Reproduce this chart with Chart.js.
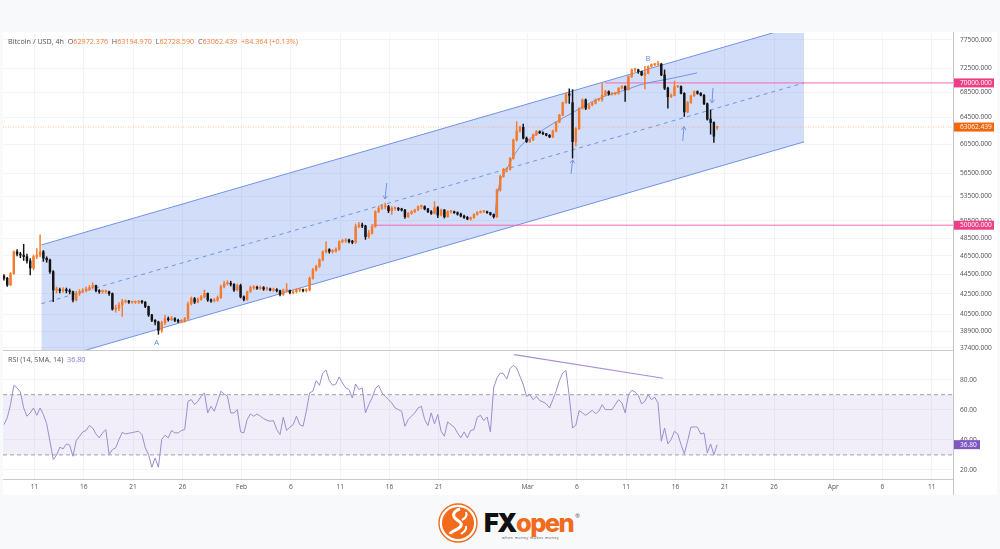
<!DOCTYPE html>
<html>
<head>
<meta charset="utf-8">
<title>Bitcoin / USD, 4h</title>
<script src="https://cdn.jsdelivr.net/npm/chart.js@4/dist/chart.umd.js"></script>
<style>
  html, body { margin:0; padding:0; width:1000px; height:549px; overflow:hidden; background:#f8f9fb; font-family:"Open Sans",sans-serif; }
  .abs { position:absolute; }
  #panel { left:3px; top:32px; width:994px; height:463px; background:#fff; }
  canvas { position:absolute; left:0; }
  .legend { position:absolute; font-size:7.2px; line-height:9px; color:#555; white-space:pre; }
  .legend b { font-weight:400; color:#f0803c; }
  .legend i { font-style:normal; color:#8d77c6; }
</style>
</head>
<body>
<div id="panel" class="abs"></div>
<canvas id="priceChart" width="1000" height="360" style="top:0"></canvas>
<canvas id="rsiChart" width="1000" height="144" style="top:351px"></canvas>
<div class="abs" style="left:953px;top:32px;width:1px;height:463px;background:#c2c4c8"></div>
<div class="abs" style="left:3px;top:350px;width:950px;height:1px;background:#c8cacd"></div>
<div class="abs" style="left:3px;top:479px;width:950px;height:1px;background:#c8cacd"></div>
<div class="legend" style="left:8px;top:37px">Bitcoin / USD, 4h  O<b>62972.376</b>  H<b>63194.970</b>  L<b>62728.590</b>  C<b>63062.439</b>  <b>+84.364 (+0.13%)</b></div>
<div class="legend" style="left:8px;top:355px">RSI (14, SMA, 14)  <i>36.80</i></div>
<svg class="abs" style="left:436px;top:500px" width="160" height="46" viewBox="0 0 160 46">
  <circle cx="22" cy="23" r="19" fill="#fff" stroke="#f26a1b" stroke-width="1.4"/>
  <circle cx="22" cy="23" r="16" fill="#f26a1b"/>
  <path d="M24 9c-7 2-8 7-4 10s8 5 3 9-8 3-9 6" fill="none" stroke="#fff" stroke-width="3"/>
  <path d="M30 12c2 5-2 7-4 8M30 26c1 4-2 6-5 8" fill="none" stroke="#fff" stroke-width="2"/>
  <text x="48" y="32" font-family="Inter, Roboto, sans-serif" font-weight="900" font-size="25.5" letter-spacing="-1.6" fill="#111">FX</text>
  <text x="80" y="32" font-family="Inter, Roboto, sans-serif" font-weight="800" font-size="25.5" letter-spacing="-1.6" fill="#f26a1b">open</text>
  <text x="139" y="18" font-family="Open Sans, sans-serif" font-size="6" fill="#555">®</text>
  <text x="66" y="39" font-family="Open Sans, sans-serif" font-size="3.6" letter-spacing=".5" fill="#444">when money makes money</text>
</svg>
<script>
// time axis, days since Jan 1
var tickDays = [10,15,20,25,31,36,41,46,51,60,65,70,75,80,85,91,96,101];
var tickLabels = ["11","16","21","26","Feb","6","11","16","21","Mar","6","11","16","21","26","Apr","6","11"];
var axisStartDay = 6.805;
var axisEndDay = 103.15;
var firstBarDay = 6.9;
var barStepDays = 1/3;

var priceTicks = [37400,38900,40500,42500,44500,46500,48500,50500,53500,56500,60500,64500,68500,72500,77500];
var rsiTicks = [20,40,60,80];

var candleOpen = [
  44350,44100,43410,44590,46950,46700,46590,46420,45950,45180,
  46420,46590,46950,46240,46060,44800,42900,42900,42830,42900,
  42830,42730,41900,42560,42730,42830,43000,43140,43350,42830,
  42730,42730,42730,42530,41000,41080,41410,41740,41740,41680,
  41680,41680,41740,41680,41250,40440,39930,39770,39000,39700,
  40090,39990,40090,39930,39830,39830,40090,41520,42030,41690,
  41960,42210,42560,41900,41800,41870,42130,43240,43550,43590,
  43480,42900,43350,42210,41940,42730,43140,43140,43070,43140,
  43000,43000,42900,42900,42830,42460,42830,42870,42630,42730,
  42900,42900,42830,42900,44100,45000,45360,46060,46950,47200,
  47000,47000,47240,48100,48170,48290,48100,48030,49830,50030,
  49910,48670,49060,49830,51620,52040,52250,52250,51740,52040,
  52040,51910,51830,51010,51420,51620,51830,52250,52250,51960,
  51620,51420,52120,51210,51830,51010,51620,51620,51500,51330,
  51090,50930,50730,50890,51290,51540,51620,51620,51500,51290,
  51010,54350,56130,57060,57060,58570,61170,62480,63020,61430,
  60930,61170,61940,62380,62220,62060,61850,61600,62480,63800,
  64870,66800,68200,66800,60930,62800,65900,67260,65930,66450,
  66720,67260,67260,68000,68580,68200,68200,68300,69130,69400,
  68900,71040,72200,72200,71900,71340,71620,72780,73090,73090,
  73210,71340,69130,67750,68000,69400,69400,68300,65370,66800,
  67900,68580,68300,68000,66640,64260,63750,62972.376
];
var candleHigh = [
  44500,44200,44700,47050,47200,46900,47800,46700,46200,46600,
  47300,48870,47100,46400,46150,44900,43200,43100,43150,43100,
  43000,42800,42750,42950,43050,43200,43350,43650,43400,42950,
  42900,42900,42800,42600,41400,41650,41950,41900,41850,41800,
  41800,41850,41850,41750,41300,40500,40000,39850,39850,40400,
  40250,40300,40200,40050,40000,40200,41700,42200,42150,42100,
  42350,42900,42600,42000,42050,42300,43400,43800,43850,43800,
  43550,43500,43500,42300,42800,43300,43350,43300,43300,43250,
  43200,43100,43100,43050,42900,43000,43550,42900,42900,43050,
  43100,43000,43050,44250,45150,45500,46200,47050,48100,47300,
  47200,47400,48200,48350,48450,48400,48250,50150,50350,50250,
  50000,49400,50100,51750,52300,52500,52680,52400,52250,52200,
  52150,52050,51900,51550,51750,51950,52350,52450,52350,52050,
  51750,52880,52250,51950,51900,51750,51800,51700,51600,51450,
  51200,51050,51000,51400,51650,51750,51800,51700,51550,51350,
  54450,56300,57200,57300,58700,61300,63870,63200,63500,61600,
  61250,62050,62550,62500,62350,62150,61950,62600,63900,65000,
  66900,68350,69030,68900,63000,66000,67400,67400,66600,66850,
  67400,67500,70000,68800,68700,68400,68450,69250,69550,69500,
  71150,72350,72500,72300,71950,72800,72900,73200,73300,73660,
  73300,72200,69300,68200,70300,69600,69500,68400,67000,68000,
  68700,68700,68400,68100,66750,65650,63850,63194.97
];
var candleLow = [
  43900,43250,43350,44500,46500,46300,46000,45700,44450,45000,
  46200,46400,45900,45800,44600,41730,42600,42600,42650,42600,
  42500,41700,41800,42350,42600,42700,42850,43000,42700,42550,
  42550,42550,42350,40900,40700,40850,40290,41600,41550,41550,
  41550,41550,41550,41150,40300,39800,39500,38630,38800,39550,
  39850,39900,39800,39700,39700,39750,40000,41400,41550,41600,
  41850,42100,41750,41650,41700,41750,42050,43100,43400,43300,
  42750,42800,42100,41800,41850,42650,42950,42950,42950,42850,
  42850,42800,42750,42700,42300,42350,42700,42500,42500,42600,
  42700,42700,42700,42800,44000,44850,45250,45950,46800,46800,
  46800,46900,47100,47950,48000,47950,47850,47900,49700,49700,
  48350,48500,48950,49750,51500,51900,51950,51500,51300,51800,
  51750,51700,50800,50900,51300,51500,51750,52000,51850,51500,
  51300,51350,50900,51100,50850,50950,51450,51400,51200,51000,
  50800,50650,50600,50800,51200,51450,51500,51400,51200,50850,
  50900,54200,56000,56700,56950,58450,61000,62300,61300,60800,
  60800,61050,61800,62100,61950,61750,61500,61500,62350,63700,
  64750,66700,66700,58600,60300,62700,65800,65700,65800,66300,
  66600,67100,67000,67900,68000,68000,68050,68150,69000,67000,
  68800,70900,71900,71600,71200,69000,71500,72650,72900,72950,
  71200,68900,65930,67600,67900,69200,68200,64660,65200,66700,
  67800,68150,67900,66500,64100,62000,60830,62728.59
];
var candleClose = [
  44100,43410,44590,46950,46700,46590,46420,45950,45180,46420,
  46590,46950,46240,46060,44800,42900,42900,42830,42900,42830,
  42730,41900,42560,42730,42830,43000,43140,43350,42830,42730,
  42730,42730,42530,41000,41080,41410,41740,41740,41680,41680,
  41680,41740,41680,41250,40440,39930,39770,39000,39700,40090,
  39990,40090,39930,39830,39830,40090,41520,42030,41690,41960,
  42210,42560,41900,41800,41870,42130,43240,43550,43590,43480,
  42900,43350,42210,41940,42730,43140,43140,43070,43140,43000,
  43000,42900,42900,42830,42460,42830,42870,42630,42730,42900,
  42900,42830,42900,44100,45000,45360,46060,46950,47200,47000,
  47000,47240,48100,48170,48290,48100,48030,49830,50030,49910,
  48670,49060,49830,51620,52040,52250,52250,51740,52040,52040,
  51910,51830,51010,51420,51620,51830,52250,52250,51960,51620,
  51420,52120,51210,51830,51010,51620,51620,51500,51330,51090,
  50930,50730,50890,51290,51540,51620,51620,51500,51290,51010,
  54350,56130,57060,57060,58570,61170,62480,63020,61430,60930,
  61170,61940,62380,62220,62060,61850,61600,62480,63800,64870,
  66800,68200,68000,60930,62800,65900,67260,65930,66450,66720,
  67260,67260,68000,68580,68200,68200,68300,69130,69400,68900,
  71040,72200,72200,71900,71340,71620,72780,73090,73090,73210,
  71340,69130,67750,68000,69400,69400,68300,65370,66800,67900,
  68580,68300,68000,66640,64260,63750,61700,63062.439
];

var rsiValues = [
  50.1,54.6,63.4,76.2,74.5,71.8,61.2,55.7,57.9,61.2,
  56.3,61.2,56.8,50.8,39.1,26.9,29.8,35.1,34,37.3,
  36.4,29.1,39.5,42.4,45.3,46.2,49.5,47.9,43.9,41.3,
  44.6,46.8,30.2,33.5,34.7,40.2,45,43.9,44.4,44.8,
  45.3,45.7,43.5,34.7,30.2,21.8,28,21.8,40.2,43.1,
  41.3,46.2,44.6,44.6,46.2,46.8,65.6,66.7,63.4,65.6,
  68.9,71.2,57.9,62.3,59,65.6,72.3,70.5,68.9,57.9,
  57.9,60.1,45.3,44.6,53.5,57.2,55.7,57.2,55.7,54.1,
  53,52.4,52.8,46.8,43.5,55,46.2,48.4,50.1,55.7,
  50.1,49,59,71.2,72.3,79.3,76.2,84.4,86.4,79.3,
  76.2,77.1,81.8,77.8,74.5,73.4,67.8,77.1,73.4,74.5,
  57.9,63.4,67.8,74,76.2,71.2,68.9,66.7,64.5,61.2,
  60.1,59,49,53.5,55.7,57.9,61.2,62.3,53.5,49.5,
  57.9,50.6,56.8,45.7,42.4,51.9,50.1,48.4,44.6,41.3,
  45.3,41.3,46.2,46.8,55,56.3,52.8,55.2,45.3,74.5,
  81.1,84.4,83.8,80.4,87.3,89.5,87.7,82.2,76.7,68.9,
  70,66.7,68.9,66.1,65.2,63.9,61.2,66.7,72.3,79.3,
  84.4,86,68.9,47.9,49.7,59.4,57.9,56.3,57.9,59.6,
  57.4,59,63.4,60.1,60.1,60.1,63.4,66.7,64.5,57.9,
  70,72.9,71.8,69.6,63.9,65.6,70,66.7,68.3,64.5,
  39.1,47.9,37.3,40.2,45.7,43.9,36.9,30.7,39.1,48.4,
  48.6,48.4,43.9,44.6,31.3,37.3,30.2,36.8
];

// drawings on the price pane, in days and prices
var channelDays = [10.69, 88.04];
var channelUpper = [47720, 80490];
var channelMiddle = [41530, 70010];
var channelLower = [36090, 60890];
var curveDays = [56.7,56.8,56.94,57.21,57.88,58.56,59.4,60.59,61.6,62.95,64.48,65.32,67.69,70.05,71.41,73.77,74.45,77.19];
var curvePrices = [51030,52470,53700,55400,57060,58800,60450,61680,62680,63900,65160,65930,67750,68900,69680,70500,70700,71680];
var resistanceDays = [67.85, 103.15];
var supportDays = [44.33, 103.15];
var resistanceLevel = 70000;
var supportLevel = 50000;
var lastPrice = 63062.439;
var arrowTailDays = [45.72, 64.41, 75.74, 78.81];
var arrowTailPrices = [55250, 56450, 61030, 69190];
var arrowTipDays = [45.55, 64.58, 75.87, 78.71];
var arrowTipPrices = [53200, 58350, 63130, 66770];
var waveNames = ["A", "B"];
var waveDays = [22.39, 72.22];
var wavePrices = [37840, 74090];

// rsi pane
var rsiUpperBand = 70;
var rsiLowerBand = 30;
var rsiTrendDays = [58.65, 73.76];
var rsiTrendValues = [96.6, 80.9];
var lastRsi = 36.8;

var upColor = "#f47b2c";
var downColor = "#141414";
var gridColor = "#f3f4f6";
var labelColor = "#4f5257";
var channelColor = "#6f93e8";
var pink = "#f26bae";
var tagFont = "6.6px 'Open Sans'";

Chart.defaults.font.family = "'Open Sans'";
Chart.defaults.font.size = 6.6;
Chart.defaults.animation = false;
Chart.defaults.plugins.legend.display = false;
Chart.defaults.plugins.tooltip.enabled = false;
Chart.defaults.elements.point.radius = 0;

function twoPoints(xs, ys){
  return [{x:xs[0], y:ys[0]}, {x:xs[1], y:ys[1]}];
}
function candleColor(ctx){
  return candleClose[ctx.dataIndex] >= candleOpen[ctx.dataIndex] ? upColor : downColor;
}
function barDay(i){
  return firstBarDay + i * barStepDays;
}
// keep the plot area from moving because of half a tick label
function fitRightAxis(s){
  s.width = 47;
  s.paddingTop = 0;
  s.paddingBottom = 0;
}

// colored value boxes on the right axis
function drawTag(chart, value, text, color, width){
  var c = chart.ctx;
  var y = chart.scales.y.getPixelForValue(value);
  c.save();
  c.fillStyle = color;
  c.fillRect(953, y - 4.5, width, 9);
  c.fillStyle = "#fff";
  c.font = tagFont;
  c.textBaseline = "middle";
  c.textAlign = "left";
  c.fillText(text, 960, y + 0.3);
  c.restore();
}

var priceDrawings = {
  id: "priceDrawings",
  afterDraw: function(chart){
    var c = chart.ctx, sx = chart.scales.x, sy = chart.scales.y;
    c.save();
    c.strokeStyle = channelColor;
    c.lineWidth = 1;
    for(var i = 0; i < arrowTipDays.length; i++){
      var x0 = sx.getPixelForValue(arrowTailDays[i]), y0 = sy.getPixelForValue(arrowTailPrices[i]);
      var x1 = sx.getPixelForValue(arrowTipDays[i]), y1 = sy.getPixelForValue(arrowTipPrices[i]);
      var a = Math.atan2(y1 - y0, x1 - x0);
      c.beginPath();
      c.moveTo(x0, y0);
      c.lineTo(x1, y1);
      c.moveTo(x1 - 4 * Math.cos(a - 0.6), y1 - 4 * Math.sin(a - 0.6));
      c.lineTo(x1, y1);
      c.lineTo(x1 - 4 * Math.cos(a + 0.6), y1 - 4 * Math.sin(a + 0.6));
      c.stroke();
    }
    c.fillStyle = "#5f84dc";
    c.font = "7.5px 'Open Sans'";
    c.textAlign = "center";
    c.textBaseline = "middle";
    for(var j = 0; j < waveNames.length; j++){
      c.fillText(waveNames[j], sx.getPixelForValue(waveDays[j]), sy.getPixelForValue(wavePrices[j]));
    }
    c.restore();
    drawTag(chart, resistanceLevel, resistanceLevel.toFixed(3), "#ee3f86", 41);
    drawTag(chart, supportLevel, supportLevel.toFixed(3), "#ee3f86", 41);
    drawTag(chart, lastPrice, lastPrice.toFixed(3), "#f2660f", 41);
  }
};

var rsiDrawings = {
  id: "rsiDrawings",
  afterDraw: function(chart){
    drawTag(chart, lastRsi, lastRsi.toFixed(2), "#7e57c2", 27);
  }
};

var xAxisBase = {
  type: "linear",
  min: axisStartDay,
  max: axisEndDay,
  offset: false,
  border: {display:false},
  grid: {color:gridColor, offset:false, drawTicks:false},
  afterBuildTicks: function(s){ s.ticks = tickDays.map(function(d){ return {value:d}; }); }
};

var priceChart = new Chart(document.getElementById("priceChart"), {
  type: "bar",
  data: {
    datasets: [
      {type:"line", data:twoPoints(channelDays, channelUpper), borderColor:channelColor, borderWidth:1,
       backgroundColor:"rgba(62,108,235,0.23)", fill:"+1", order:9},
      {type:"line", data:twoPoints(channelDays, channelLower), borderColor:channelColor, borderWidth:1, order:8},
      {type:"line", data:twoPoints(channelDays, channelMiddle), borderColor:channelColor, borderWidth:1, borderDash:[4,4], order:7},
      {type:"line", data:twoPoints([axisStartDay, axisEndDay], [lastPrice, lastPrice]), borderColor:"#f4a36f", borderWidth:0.7, borderDash:[1,1.5], order:6},
      {type:"line", data:twoPoints(resistanceDays, [resistanceLevel, resistanceLevel]), borderColor:pink, borderWidth:1, order:5},
      {type:"line", data:twoPoints(supportDays, [supportLevel, supportLevel]), borderColor:pink, borderWidth:1, order:5},
      {type:"line", data:curveDays.map(function(d, i){ return {x:d, y:curvePrices[i]}; }), borderColor:channelColor, borderWidth:1,
       cubicInterpolationMode:"monotone", order:4},
      {data:candleClose.map(function(c, i){ return {x:barDay(i), y:[candleLow[i], candleHigh[i]]}; }),
       backgroundColor:candleColor, barThickness:0.8, grouped:false, order:2},
      {data:candleClose.map(function(c, i){ return {x:barDay(i), y:[candleOpen[i], c]}; }),
       backgroundColor:candleColor, barThickness:1.8, minBarLength:1, grouped:false, order:1}
    ]
  },
  options: {
    responsive: false,
    layout: {padding:{left:3, top:33, bottom:10, right:0}},
    scales: {
      x: Object.assign({}, xAxisBase, {
        ticks: {display:false},
        afterFit: function(s){ s.height = 0; s.paddingLeft = 0; s.paddingRight = 0; }
      }),
      y: {
        type: "logarithmic",
        position: "right",
        min: 37223,
        max: 78770,
        border: {display:false},
        grid: {color:gridColor, drawTicks:false},
        ticks: {autoSkip:false, color:labelColor, padding:7, crossAlign:"near",
                callback: function(v){ return Number(v).toFixed(3); }},
        afterBuildTicks: function(s){ s.ticks = priceTicks.map(function(v){ return {value:v}; }); },
        afterFit: fitRightAxis
      }
    }
  },
  plugins: [priceDrawings]
});

var rsiChart = new Chart(document.getElementById("rsiChart"), {
  type: "line",
  data: {
    datasets: [
      {data:twoPoints([axisStartDay, axisEndDay], [rsiUpperBand, rsiUpperBand]), borderColor:"#8b8b90", borderWidth:0.8, borderDash:[4,3],
       backgroundColor:"rgba(126,87,194,0.1)", fill:"+1", order:4},
      {data:twoPoints([axisStartDay, axisEndDay], [rsiLowerBand, rsiLowerBand]), borderColor:"#8b8b90", borderWidth:0.8, borderDash:[4,3], order:3},
      {data:rsiValues.map(function(v, i){ return {x:barDay(i), y:v}; }), borderColor:"#9a8dce", borderWidth:1, order:1},
      {data:twoPoints(rsiTrendDays, rsiTrendValues), borderColor:"#a68fd8", borderWidth:1.2, order:2}
    ]
  },
  options: {
    responsive: false,
    layout: {padding:{left:3, top:0, bottom:0, right:0}},
    scales: {
      x: Object.assign({}, xAxisBase, {
        ticks: {autoSkip:false, maxRotation:0, color:labelColor, padding:4,
                callback: function(v, i){ return tickLabels[i]; }},
        afterFit: function(s){ s.height = 16; s.paddingLeft = 0; s.paddingRight = 0; }
      }),
      y: {
        type: "linear",
        position: "right",
        min: 14,
        max: 99,
        border: {display:false},
        grid: {color:gridColor, drawTicks:false},
        ticks: {autoSkip:false, color:labelColor, padding:7, crossAlign:"near",
                callback: function(v){ return Number(v).toFixed(2); }},
        afterBuildTicks: function(s){ s.ticks = rsiTicks.map(function(v){ return {value:v}; }); },
        afterFit: fitRightAxis
      }
    }
  },
  plugins: [rsiDrawings]
});
</script>
</body>
</html>
